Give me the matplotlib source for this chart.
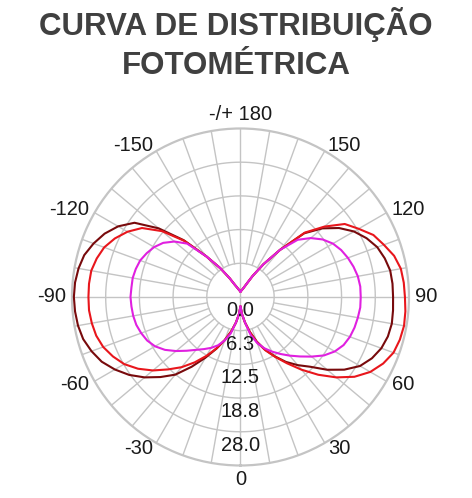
import numpy as np
import matplotlib.pyplot as plt

plt.rcParams['font.family'] = ['Liberation Sans', 'DejaVu Sans']

# --- data (5 degree steps from -180 to 180)
angles_deg = np.arange(-180, 181, 5)

curve_dark = [1.0, 1.1, 1.3, 1.5, 1.9, 2.5, 4.0, 6.5, 9.8, 14.9, 19.8, 24.0, 26.2, 27.8, 29.0,
              30.0, 30.5, 30.8, 30.9, 30.8, 30.6, 30.2, 29.4, 28.4, 26.9, 25.2, 23.2, 21.0, 18.8,
              15.8, 13.0, 10.6, 8.5, 6.6, 4.8, 3.2, 1.7,
              3.2, 4.8, 6.7, 8.8, 10.8, 12.7, 14.7, 16.5, 18.3, 21.0, 23.5, 25.6, 26.9, 27.8, 28.3,
              28.5, 28.4, 28.3, 28.3, 28.2, 27.7, 27.0, 25.8, 24.3, 22.3, 19.8, 16.7, 11.4, 7.4,
              4.5, 2.7, 1.9, 1.5, 1.3, 1.1, 1.0]

curve_red = [1.0, 1.1, 1.3, 1.5, 1.9, 2.5, 4.0, 6.5, 9.8, 14.7, 19.0, 22.3, 24.2, 25.7, 26.9,
             27.6, 28.1, 28.2, 28.2, 28.2, 28.0, 27.7, 27.1, 26.1, 24.9, 23.2, 21.2, 19.0, 17.0,
             14.8, 12.6, 10.5, 8.5, 6.6, 4.8, 3.2, 1.7,
             3.2, 4.8, 6.8, 8.9, 10.9, 12.8, 15.0, 17.6, 20.4, 23.2, 25.8, 27.8, 29.2, 30.2, 30.6,
             30.8, 30.7, 30.5, 30.4, 30.2, 29.5, 28.3, 27.2, 25.3, 23.6, 20.3, 16.9, 11.4, 7.4,
             4.5, 2.7, 1.9, 1.5, 1.3, 1.1, 1.0]

curve_magenta = [1.0, 1.1, 1.3, 1.5, 1.9, 2.5, 4.0, 6.5, 9.8, 14.0, 16.0, 17.5, 18.5, 19.2, 19.8,
                 20.1, 20.3, 20.3, 20.4, 20.3, 20.2, 20.0, 19.6, 19.1, 18.3, 17.1, 15.6, 14.1, 12.8,
                 11.8, 10.9, 9.9, 8.6, 7.0, 4.8, 3.2, 1.7,
                 3.2, 4.8, 7.3, 9.1, 10.5, 11.7, 12.9, 14.2, 15.6, 17.2, 18.9, 20.2, 21.1, 21.6, 21.9,
                 22.1, 22.3, 22.3, 22.3, 22.1, 21.7, 21.2, 20.6, 19.8, 18.6, 17.0, 15.0, 11.4, 7.4,
                 4.5, 2.7, 1.9, 1.5, 1.3, 1.1, 1.0]

ring_values = [0.0, 6.25, 12.5, 18.75, 25.0]
ring_labels = ['0.0', '6.3', '12.5', '18.8', '28.0']
r_max = 31.25

angle_ticks = [-150, -120, -90, -60, -30, 0, 30, 60, 90, 120, 150, 180]
angle_labels = ['-150', '-120', '-90', '-60', '-30', '0', '30', '60', '90', '120', '150', '-/+ 180']

grid_color = '#c4c4c4'

fig = plt.figure(figsize=(4.72, 4.98), dpi=100)
ax = fig.add_axes([0.1525, 0.0653, 0.714, 0.6767], projection='polar')
ax.set_theta_zero_location('S')
ax.set_theta_direction(1)
ax.set_ylim(0, r_max)
ax.grid(False)
ax.set_xticks([])
ax.set_yticks([])
ax.spines['polar'].set_color(grid_color)
ax.spines['polar'].set_linewidth(1.6)

# rings
t_full = np.linspace(0, 2 * np.pi, 361)
for r in ring_values[1:]:
    ax.plot(t_full, np.full_like(t_full, r), color=grid_color, lw=1.0, zorder=1)

# spokes every 10 degrees; the main axes cross the centre
for deg in range(0, 360, 10):
    th = np.radians(deg)
    r0 = 0 if deg % 90 == 0 else ring_values[1]
    ax.plot([th, th], [r0, r_max], color=grid_color, lw=1.0, zorder=1)

# curves
th = np.radians(angles_deg)
ax.plot(th, curve_dark, color='#780a0c', lw=1.5, zorder=3)
ax.plot(th, curve_red, color='#e8161c', lw=1.5, zorder=3)
ax.plot(th, curve_magenta, color='#e020e0', lw=1.5, zorder=4)

# angle labels just outside the outer ring
for deg, lab in zip(angle_ticks, angle_labels):
    a = np.radians(deg)
    s = np.sin(a)
    if abs(s) < 0.1:
        ha = 'center'
        va = 'top' if np.cos(a) > 0 else 'bottom'
        rl = 32.1
    else:
        ha = 'left' if s > 0 else 'right'
        va = 'center'
        rl = 32.4
    ax.text(a, rl, lab, ha=ha, va=va, fontsize=14.5, color='#1a1a1a')

# radial value labels, hanging below each ring on the 0 degree axis
for rv, lab in zip(ring_values, ring_labels):
    ax.text(0, rv + 2.5, lab, ha='center', va='center', fontsize=14.5, color='#1a1a1a', zorder=5)

fig.text(0.5, 1 - 35 / 498, 'CURVA DE DISTRIBUIÇÃO', ha='center', va='baseline',
         fontsize=22.5, fontweight='bold', color='#404040')
fig.text(0.5, 1 - 74 / 498, 'FOTOMÉTRICA', ha='center', va='baseline',
         fontsize=22.5, fontweight='bold', color='#404040')

fig.savefig('out.png', dpi=100, facecolor='white')
